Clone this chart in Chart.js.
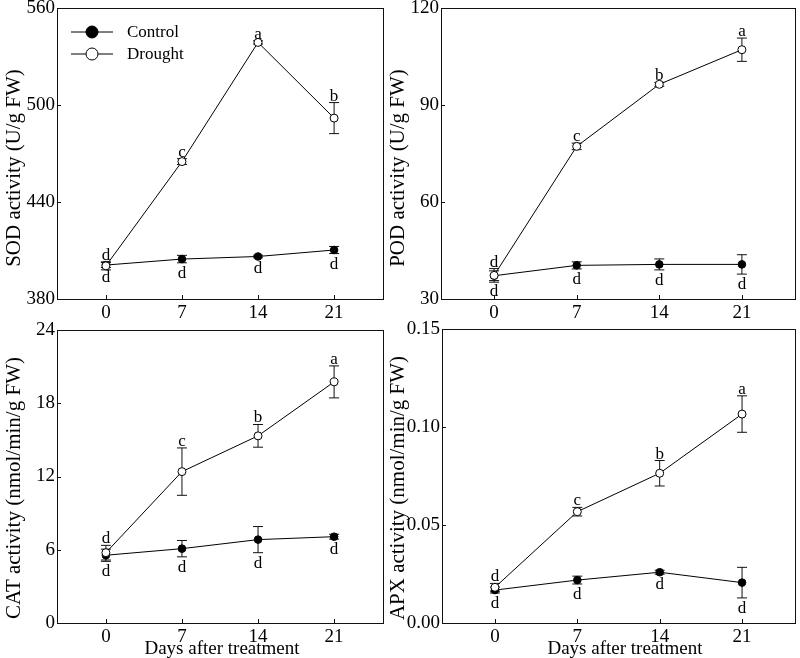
<!DOCTYPE html>
<html>
<head>
<meta charset="utf-8">
<script src="https://cdn.jsdelivr.net/npm/chart.js@4.4.0/dist/chart.umd.min.js"></script>
<style>
  html, body { margin: 0; padding: 0; background: #fff; }
  #wrap { position: relative; width: 800px; height: 658px; overflow: hidden; }
  canvas { position: absolute; }
</style>
</head>
<body>
<div id="wrap">
  <canvas id="sod" width="388" height="320" style="left:0px;top:0px"></canvas>
  <canvas id="pod" width="412" height="320" style="left:388px;top:0px"></canvas>
  <canvas id="cat" width="388" height="338" style="left:0px;top:320px"></canvas>
  <canvas id="apx" width="412" height="338" style="left:388px;top:320px"></canvas>
</div>
<script>
var days = [0, 7, 14, 21];
var serif = "'Liberation Serif', 'Times New Roman', serif";

// SOD
var sodControl = [401.0, 404.7, 406.3, 410.3];
var sodControlErr = [1.5, 2.3, 0.8, 2.2];
var sodDrought = [400.5, 465.0, 538.7, 491.9];
var sodDroughtErr = [2.5, 1.8, 1.0, 9.6];
var sodControlLetters = ["d", "d", "d", "d"];
var sodDroughtLetters = ["d", "c", "a", "b"];
var sodTicks = [380, 440, 500, 560];

// POD
var podControl = [37.2, 40.4, 40.7, 40.7];
var podControlErr = [1.5, 1.1, 1.7, 3.0];
var podDrought = [37.3, 77.2, 96.4, 107.1];
var podDroughtErr = [2.1, 1.0, 0.6, 3.6];
var podControlLetters = ["d", "d", "d", "d"];
var podDroughtLetters = ["d", "c", "b", "a"];
var podTicks = [30, 60, 90, 120];

// CAT
var catControl = [5.55, 6.09, 6.83, 7.07];
var catControlErr = [0.5, 0.67, 1.07, 0.2];
var catDrought = [5.76, 12.4, 15.33, 19.75];
var catDroughtErr = [0.6, 1.94, 0.93, 1.31];
var catControlLetters = ["d", "d", "d", "d"];
var catDroughtLetters = ["d", "c", "b", "a"];
var catTicks = [0, 6, 12, 18, 24];

// APX
var apxControl = [0.0168, 0.0219, 0.0259, 0.0206];
var apxControlErr = [0.0015, 0.002, 0.001, 0.0078];
var apxDrought = [0.0182, 0.0568, 0.0764, 0.1066];
var apxDroughtErr = [0.002, 0.0022, 0.0065, 0.0093];
var apxControlLetters = ["d", "d", "d", "d"];
var apxDroughtLetters = ["d", "c", "b", "a"];
var apxTicks = [0, 0.05, 0.10, 0.15];

function points(vals) {
    return days.map(function (d, i) { return { x: d, y: vals[i] }; });
}

// frame, inward ticks, error bars, letters, titles, legend
var panelPlugin = {
    id: "panel",
    beforeDatasetsDraw: function (chart) {
        var ctx = chart.ctx, a = chart.chartArea;
        var xs = chart.scales.x, ys = chart.scales.y;
        ctx.save();
        ctx.strokeStyle = "#111";
        ctx.lineWidth = 1;
        ctx.strokeRect(Math.round(a.left) + 0.5, Math.round(a.top) + 0.5,
            Math.round(a.right - a.left), Math.round(a.bottom - a.top));
        ctx.beginPath();
        xs.ticks.forEach(function (t) {
            var px = Math.round(xs.getPixelForValue(t.value)) + 0.5;
            ctx.moveTo(px, a.bottom);
            ctx.lineTo(px, a.bottom - 4);
        });
        ys.ticks.forEach(function (t) {
            var py = Math.round(ys.getPixelForValue(t.value)) + 0.5;
            ctx.moveTo(a.left, py);
            ctx.lineTo(a.left + 4, py);
        });
        ctx.stroke();
        chart.data.datasets.forEach(function (ds) {
            ds.data.forEach(function (p, i) {
                var px = xs.getPixelForValue(p.x), e = ds.errors[i];
                var top = ys.getPixelForValue(p.y + e), bot = ys.getPixelForValue(p.y - e);
                ctx.beginPath();
                ctx.moveTo(px, top); ctx.lineTo(px, bot);
                ctx.moveTo(px - 5, top); ctx.lineTo(px + 5, top);
                ctx.moveTo(px - 5, bot); ctx.lineTo(px + 5, bot);
                ctx.stroke();
            });
        });
        ctx.restore();
    },
    afterDatasetsDraw: function (chart, args, opts) {
        var ctx = chart.ctx;
        var xs = chart.scales.x, ys = chart.scales.y;
        ctx.save();
        ctx.fillStyle = "#000";
        ctx.textAlign = "center";
        ctx.textBaseline = "alphabetic";
        ctx.font = "17px " + serif;
        chart.data.datasets.forEach(function (ds) {
            ds.data.forEach(function (p, i) {
                var px = xs.getPixelForValue(p.x), e = ds.errors[i];
                if (ds.letterPos === "above") {
                    ctx.fillText(ds.letters[i], px, ys.getPixelForValue(p.y + e) - 2);
                } else {
                    ctx.fillText(ds.letters[i], px, ys.getPixelForValue(p.y - e) + 15);
                }
            });
        });

        // y title
        ctx.font = "21px " + serif;
        ctx.save();
        ctx.translate(opts.yTitleX, opts.yTitleY);
        ctx.rotate(-Math.PI / 2);
        ctx.fillText(opts.yTitle, 0, 0);
        ctx.restore();

        if (opts.xTitle) {
            ctx.font = "19px " + serif;
            ctx.fillText(opts.xTitle, opts.xTitleX, opts.xTitleY);
        }

        if (opts.legend) {
            var rows = [chart.data.datasets[1], chart.data.datasets[0]];
            ctx.font = "17px " + serif;
            ctx.textAlign = "left";
            ctx.textBaseline = "middle";
            rows.forEach(function (ds, k) {
                var ly = 32 + k * 22;
                ctx.beginPath();
                ctx.strokeStyle = "#000";
                ctx.lineWidth = 1;
                ctx.moveTo(71, ly); ctx.lineTo(113, ly);
                ctx.stroke();
                ctx.beginPath();
                ctx.arc(92, ly, 6, 0, Math.PI * 2);
                ctx.fillStyle = ds.pointBackgroundColor;
                ctx.fill();
                ctx.stroke();
                ctx.fillStyle = "#000";
                ctx.fillText(ds.label, 127, ly + 1);
            });
        }
        ctx.restore();
    }
};

function makePanel(id, p) {
    return new Chart(document.getElementById(id), {
        type: "line",
        data: {
            datasets: [
                {
                    label: "Drought",
                    data: points(p.drought),
                    errors: p.droughtErr,
                    letters: p.droughtLetters,
                    letterPos: "above",
                    order: 0,
                    borderColor: "#000",
                    borderWidth: 1,
                    tension: 0,
                    pointRadius: 4,
                    pointBackgroundColor: "#fff",
                    pointBorderColor: "#000",
                    pointBorderWidth: 1,
                },
                {
                    label: "Control",
                    data: points(p.control),
                    errors: p.controlErr,
                    letters: p.controlLetters,
                    letterPos: "below",
                    order: 1,
                    borderColor: "#000",
                    borderWidth: 1,
                    tension: 0,
                    pointRadius: 3.8,
                    pointBackgroundColor: "#000",
                    pointBorderColor: "#000",
                    pointBorderWidth: 1,
                },
            ],
        },
        options: {
            responsive: false,
            animation: false,
            events: [],
            layout: { padding: { top: p.padTop, right: p.padRight, left: 0, bottom: 0 } },
            plugins: {
                legend: { display: false },
                tooltip: { enabled: false },
                panel: p.titles,
            },
            scales: {
                x: {
                    type: "linear",
                    min: -4.5,
                    max: 25.5,
                    afterBuildTicks: function (s) {
                        s.ticks = days.map(function (v) { return { value: v }; });
                    },
                    grid: { display: false, drawTicks: false },
                    border: { display: false },
                    ticks: {
                        color: "#000",
                        padding: 3,
                        maxRotation: 0,
                        font: { size: 19, family: serif },
                    },
                    afterFit: function (s) {
                        s.height = p.xHeight;
                        s.paddingLeft = 0; s.paddingRight = 0;
                    },
                },
                y: {
                    min: p.ticks[0],
                    max: p.ticks[p.ticks.length - 1],
                    afterBuildTicks: function (s) {
                        s.ticks = p.ticks.map(function (v) { return { value: v }; });
                    },
                    grid: { display: false, drawTicks: false },
                    border: { display: false },
                    ticks: {
                        color: "#000",
                        padding: 2,
                        font: { size: 19, family: serif },
                        callback: p.fmt,
                    },
                    afterFit: function (s) {
                        s.width = p.yWidth;
                        s.paddingTop = 0; s.paddingBottom = 0;
                    },
                },
            },
        },
        plugins: [panelPlugin],
    });
}

function plain(v) { return String(v); }
function twoDp(v) { return v.toFixed(2); }

makePanel("sod", {
    control: sodControl, controlErr: sodControlErr, controlLetters: sodControlLetters,
    drought: sodDrought, droughtErr: sodDroughtErr, droughtLetters: sodDroughtLetters,
    ticks: sodTicks, fmt: plain,
    padTop: 8, padRight: 2, yWidth: 57, xHeight: 21,
    titles: { yTitle: "SOD activity (U/g FW)", yTitleX: 20, yTitleY: 168, legend: true },
});
makePanel("pod", {
    control: podControl, controlErr: podControlErr, controlLetters: podControlLetters,
    drought: podDrought, droughtErr: podDroughtErr, droughtLetters: podDroughtLetters,
    ticks: podTicks, fmt: plain,
    padTop: 8, padRight: 5, yWidth: 53, xHeight: 21,
    titles: { yTitle: "POD activity (U/g FW)", yTitleX: 16, yTitleY: 168 },
});
makePanel("cat", {
    control: catControl, controlErr: catControlErr, controlLetters: catControlLetters,
    drought: catDrought, droughtErr: catDroughtErr, droughtLetters: catDroughtLetters,
    ticks: catTicks, fmt: plain,
    padTop: 10, padRight: 3, yWidth: 57, xHeight: 35,
    titles: { yTitle: "CAT activity (nmol/min/g FW)", yTitleX: 20, yTitleY: 168,
        xTitle: "Days after treatment", xTitleX: 222, xTitleY: 334 },
});
makePanel("apx", {
    control: apxControl, controlErr: apxControlErr, controlLetters: apxControlLetters,
    drought: apxDrought, droughtErr: apxDroughtErr, droughtLetters: apxDroughtLetters,
    ticks: apxTicks, fmt: twoDp,
    padTop: 9, padRight: 5, yWidth: 54, xHeight: 35,
    titles: { yTitle: "APX activity (nmol/min/g FW)", yTitleX: 16, yTitleY: 168,
        xTitle: "Days after treatment", xTitleX: 237, xTitleY: 334 },
});
</script>
</body>
</html>
